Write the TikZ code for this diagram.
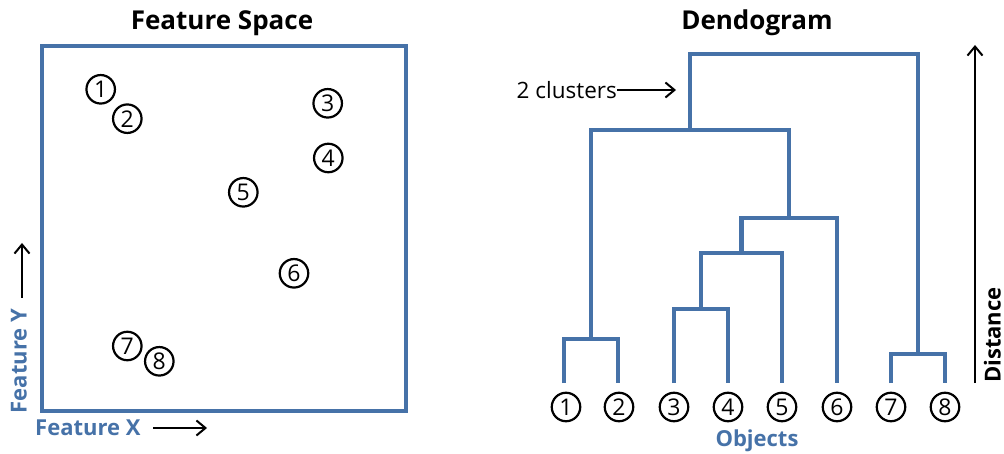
\documentclass[tikz,border=0pt]{standalone}
\usepackage{fontspec}
\setmainfont{Open Sans}
\usetikzlibrary{arrows.meta}
\definecolor{fblue}{RGB}{70,114,168}
\begin{document}
\begin{tikzpicture}[x=1pt,y=-1pt,
  dline/.style={draw=fblue,line width=4.8pt,line join=miter},
  numc/.style={circle,draw=black,line width=2.2pt,minimum size=28.5pt,inner sep=0pt,
    font=\fontsize{23}{23}\selectfont},
  ttl/.style={font=\fontsize{26}{30}\selectfont\bfseries},
  axl/.style={font=\fontsize{22}{26}\selectfont\bfseries,text=fblue},
  arr/.style={draw=black,line width=2.2pt,-{Straight Barb[length=9pt,width=15pt,line width=2pt]}}]
\useasboundingbox[fill=white] (0,0) rectangle (1004,454);

% ---------- Feature space ----------
\node[ttl] (fstitle) at (222,23) {Feature Space};
\node[draw=fblue,line width=4pt,minimum width=364pt,minimum height=364.5pt,inner sep=0pt,anchor=north west] (fs) at (39.5,44.5) {};
\node[numc] (p1) at (100.7,89.3) {1};
\node[numc] (p2) at (127.3,118.7) {2};
\node[numc] (p3) at (327.7,103.3) {3};
\node[numc] (p4) at (328.3,158) {4};
\node[numc] (p5) at (243.3,192.3) {5};
\node[numc] (p6) at (294,273.3) {6};
\node[numc] (p7) at (127.3,346) {7};
\node[numc] (p8) at (159.3,361.3) {8};

\node[axl,rotate=90] (fy) at (19,361) {Feature Y};
\coordinate (fyb) at (22,298);
\coordinate (fyt) at (22,243);
\draw[arr] (fyb) -- (fyt);
\node[axl,anchor=west,inner sep=0pt] (fx) at (35,428) {Feature X};
\coordinate (fxl) at (153,428);
\coordinate (fxr) at (207,428);
\draw[arr] (fxl) -- (fxr);

% ---------- Dendrogram ----------
\node[ttl] (dtitle) at (757,23) {Dendogram};

\coordinate (l1) at (564,383);
\coordinate (l2) at (618,383);
\coordinate (l3) at (674,383);
\coordinate (l4) at (728,383);
\coordinate (l5) at (782,383);
\coordinate (l6) at (837,383);
\coordinate (l7) at (891,383);
\coordinate (l8) at (945,383);

\coordinate (m12) at (591,339);
\coordinate (m34) at (701,309);
\coordinate (m345) at (741.5,253);
\coordinate (m3456) at (789,218);
\coordinate (m16) at (690,130);
\coordinate (m78) at (918,354);
\coordinate (root) at (804,54);

\draw[dline] (l1) |- (m12) -| (l2);
\draw[dline] (l3) |- (m34) -| (l4);
\draw[dline] (m34) |- (m345) -| (l5);
\draw[dline] (m345) |- (m3456) -| (l6);
\draw[dline] (m12) |- (m16) -| (m3456);
\draw[dline] (l7) |- (m78) -| (l8);
\draw[dline] (m16) |- (root) -| (m78);

\node[numc] (d1) at (566,407) {1};
\node[numc] (d2) at (619,407) {2};
\node[numc] (d3) at (674,407) {3};
\node[numc] (d4) at (728,407) {4};
\node[numc] (d5) at (782,407) {5};
\node[numc] (d6) at (837,407) {6};
\node[numc] (d7) at (891,407) {7};
\node[numc] (d8) at (945,407) {8};

\node[axl] (obj) at (757,441) {Objects};

\node[anchor=east,inner sep=0pt,font=\fontsize{22.5}{26}\selectfont] (clu) at (617,90) {2 clusters};
\coordinate (clue) at (676,90);
\draw[arr] (clu) -- (clue);

\coordinate (db) at (975,383);
\coordinate (dt) at (975,45);
\draw[arr] (db) -- (dt);
\node[rotate=90,anchor=south west,inner sep=0pt,font=\fontsize{22}{26}\selectfont\bfseries] (dist) at (1001,383) {Distance};
\end{tikzpicture}
\end{document}
